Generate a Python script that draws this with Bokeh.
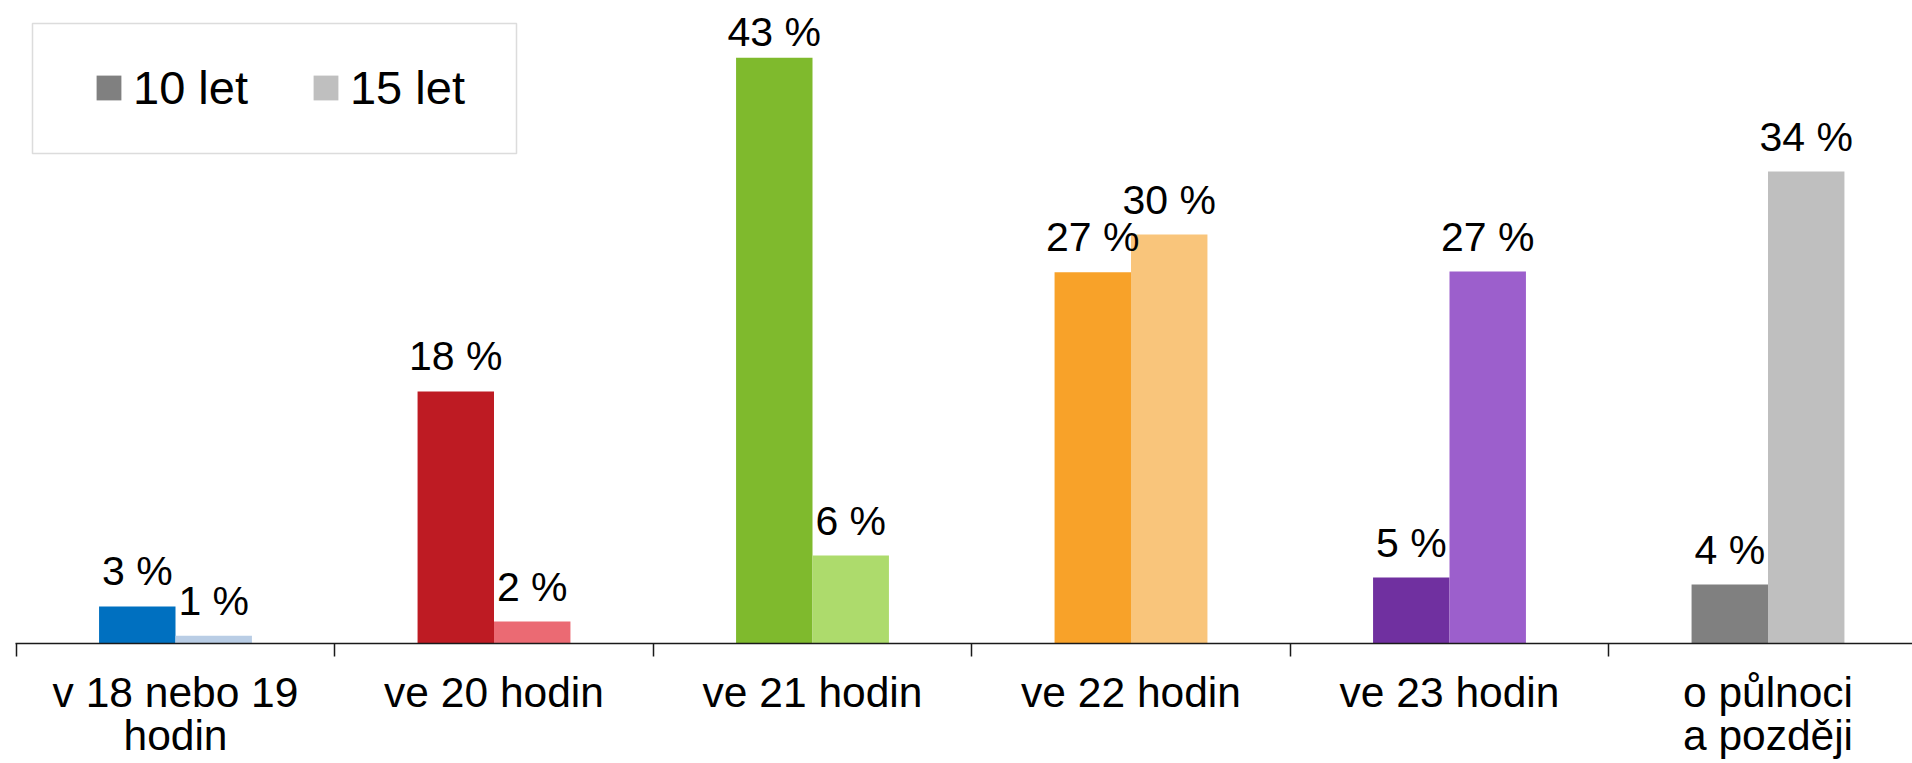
from bokeh.plotting import figure
from bokeh.models import (ColumnDataSource, FixedTicker, LabelSet, Legend,
                          LegendItem, BoxAnnotation, Range1d)
from bokeh.core.properties import value
from bokeh.embed import file_html
from bokeh.resources import INLINE

# ---------------- data ----------------
categories = ["v 18 nebo 19\nhodin", "ve 20 hodin", "ve 21 hodin",
              "ve 22 hodin", "ve 23 hodin", "o půlnoci\na později"]
series_names = ["10 let", "15 let"]
values_10 = [2.70, 18.37, 42.69, 27.06, 4.81, 4.30]
values_15 = [0.56, 1.60, 6.41, 29.81, 27.11, 34.40]
colors_10 = ["#0070C0", "#BE1B23", "#7FBA2D", "#F8A229", "#7030A0", "#808080"]
colors_15 = ["#B9CDE5", "#EB6A73", "#ADDB6C", "#F9C57B", "#9C5FCC", "#BFBFBF"]

# ---------------- layout (page pixels) ----------------
FONT = "Liberation Sans"
W, H = 1912, 763
CAT_PX = 318.5          # width of one category
CENTER0 = 175           # page x of first category centre
PCT_PX = 13.72          # pixels per percent
AXIS_Y = 643            # page y of the axis line
FRAME_L, FRAME_T, FRAME_R = 15, 0, W

def dx(px):
    return (px - CENTER0) / CAT_PX

def dy(py):
    return (AXIS_Y - py) / PCT_PX

BAR_W = 0.24

xs, tops, cols, labels, offs = [], [], [], [], []
# dark series first, then light series (so legend indices are simple)
for vals, cs, sign in ((values_10, colors_10, -1), (values_15, colors_15, 1)):
    for i, v in enumerate(vals):
        xs.append(i + sign * BAR_W / 2)
        tops.append(v)
        cols.append(cs[i])
        labels.append(f"{round(v)} %")
        bar_top_px = AXIS_Y - v * PCT_PX
        offs.append(min(21, bar_top_px - 45))

src = ColumnDataSource(dict(x=xs, top=tops, color=cols, label=labels, off=offs))

p = figure(width=W, height=H,
           x_range=Range1d(dx(FRAME_L), dx(FRAME_R)),
           y_range=Range1d(0, dy(FRAME_T)),
           output_backend="svg", toolbar_location=None,
           min_border_left=FRAME_L, min_border_right=0,
           min_border_top=FRAME_T, min_border_bottom=H - AXIS_Y,
           outline_line_color=None, y_axis_location=None,
           background_fill_color="white", border_fill_color="white")
p.grid.visible = False

bars = p.vbar(x="x", top="top", bottom=0, width=BAR_W, fill_color="color",
              line_color=None, source=src)

lbl = LabelSet(x="x", y="top", text="label", y_offset="off", source=src,
               text_align="center", text_baseline="alphabetic",
               text_font=value(FONT), text_font_size="41px", text_color="black")
p.add_layout(lbl)

# axis: boundary ticks (minor), category names at centres (major, no tick)
ax = p.xaxis[0]
ax.ticker = FixedTicker(ticks=list(range(len(categories))),
                        minor_ticks=[i - 0.5 for i in range(len(categories) + 1)])
ax.major_label_overrides = {i: c for i, c in enumerate(categories)}
ax.major_tick_out = 0
ax.major_tick_in = 0
ax.major_tick_line_color = None
ax.minor_tick_out = 13
ax.minor_tick_in = 0
ax.minor_tick_line_color = "#1a1a1a"
ax.minor_tick_line_width = 1.5
ax.axis_line_color = "#1a1a1a"
ax.axis_line_width = 1.5
ax.major_label_text_font = FONT
ax.major_label_text_font_size = "42.5px"
ax.major_label_text_color = "black"
ax.major_label_text_line_height = 0.93
ax.major_label_standoff = 12

# legend frame
box = BoxAnnotation(left=dx(32), right=dx(516), top=dy(23), bottom=dy(153),
                    fill_alpha=0, line_color="#8c8c8c", line_width=1.5)
p.add_layout(box)

n10 = len(values_10)
legend = Legend(items=[LegendItem(label=series_names[0], renderers=[bars], index=n10 - 1),
                       LegendItem(label=series_names[1], renderers=[bars], index=2 * n10 - 1)],
                orientation="horizontal", location=(78, 528),
                glyph_width=31, glyph_height=31, label_standoff=9, spacing=62,
                padding=0, margin=0, border_line_color=None,
                background_fill_alpha=0,
                label_text_font=FONT, label_text_font_size="47px",
                label_text_color="black")
p.add_layout(legend)

open("out.html", "w").write(file_html(p, INLINE))
